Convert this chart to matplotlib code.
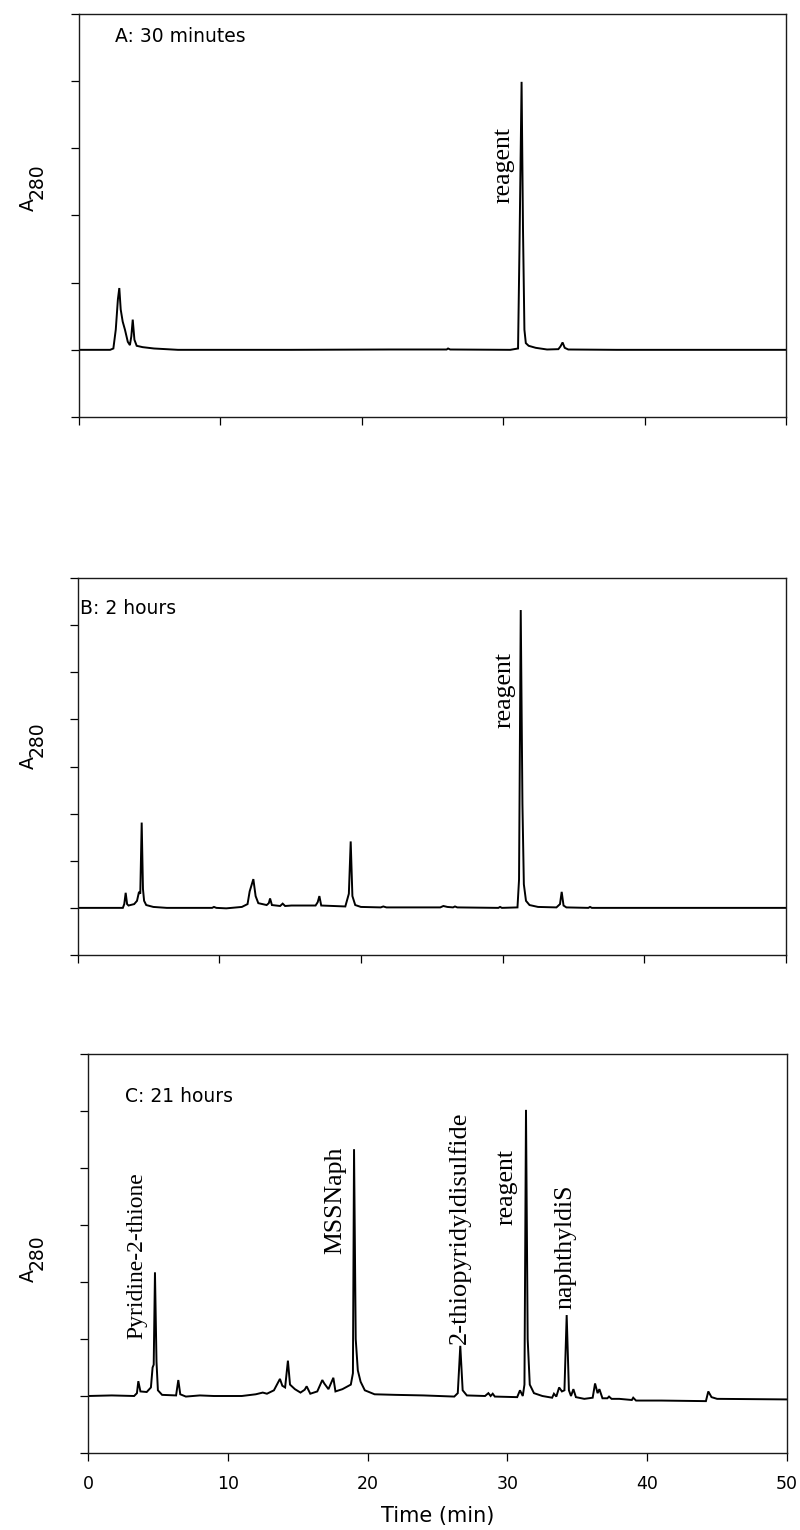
import matplotlib
matplotlib.use("Agg")
import matplotlib.pyplot as plt

# ---------------- data ----------------
# Panel A: 30 minutes
t_A = [0, 2.2, 2.43, 2.6, 2.75, 2.85, 2.95, 3.09, 3.25, 3.45, 3.6, 3.7, 3.8, 3.92, 4.08, 4.5,
       5.3, 7, 15, 22, 26.0, 26.1, 26.25, 30.5, 31.05, 31.15, 31.3, 31.4, 31.5, 31.6, 31.8,
       32.3, 33.1, 33.9, 34.05, 34.2, 34.35, 34.6, 38, 50]
a_A = [0, 0, 0.02, 0.3, 0.75, 0.92, 0.6, 0.42, 0.3, 0.12, 0.07, 0.2, 0.45, 0.15, 0.06, 0.04,
       0.02, 0.0, 0.0, 0.005, 0.005, 0.02, 0.005, 0.0, 0.02, 1.5, 3.99, 1.8, 0.3, 0.1, 0.06,
       0.03, 0.005, 0.01, 0.05, 0.11, 0.03, 0.005, 0.0, 0.0]

# Panel B: 2 hours
t_B = [0, 3.2, 3.3, 3.4, 3.5, 3.6, 4.0, 4.2, 4.34, 4.43, 4.53, 4.62, 4.7, 4.85, 5.35, 6.3,
       9.5, 9.63, 9.8, 10.5, 11.6, 12.0, 12.15, 12.41, 12.57, 12.76, 13.35, 13.5, 13.59, 13.72,
       14.3, 14.48, 14.65, 15.1, 16.8, 16.95, 17.07, 17.2, 18.9, 19.15, 19.28, 19.4, 19.6, 20.0,
       21.4, 21.58, 21.8, 25.6, 25.82, 26.1, 26.5, 26.64, 26.8, 29.7, 29.82, 29.95,
       31.05, 31.16, 31.28, 31.4, 31.5, 31.65, 31.9, 32.5, 33.8, 34.05, 34.17, 34.3, 34.5,
       36.05, 36.17, 36.3, 40, 50]
a_B = [0, 0, 0.08, 0.32, 0.08, 0.05, 0.08, 0.15, 0.34, 0.3, 1.81, 0.4, 0.15, 0.06, 0.02, 0.0,
       0.0, 0.02, 0.0, -0.01, 0.02, 0.08, 0.35, 0.61, 0.25, 0.1, 0.06, 0.1, 0.2, 0.06,
       0.04, 0.09, 0.04, 0.05, 0.05, 0.12, 0.25, 0.05, 0.03, 0.3, 1.41, 0.25, 0.06, 0.02,
       0.01, 0.03, 0.01, 0.01, 0.04, 0.02, 0.01, 0.03, 0.01, 0.0, 0.02, 0.0,
       0.01, 0.6, 6.32, 2.2, 0.5, 0.15, 0.06, 0.02, 0.01, 0.08, 0.34, 0.05, 0.01,
       0.0, 0.02, 0.0, 0.0, 0.0]

# Panel C: 21 hours
t_C = [0, 1.7, 3.3, 3.5, 3.6, 3.75, 4.2, 4.5, 4.62, 4.7, 4.79, 4.9, 5.0, 5.3, 6.3, 6.46, 6.6,
       7.0, 8.0, 9.0, 11.0, 12.0, 12.5, 12.8, 13.3, 13.73, 13.9, 14.1, 14.3, 14.45, 14.8, 15.2,
       15.5, 15.64, 15.9, 16.4, 16.76, 16.9, 17.2, 17.55, 17.7, 18.2, 18.8, 18.95, 19.03, 19.15,
       19.3, 19.5, 19.8, 20.5, 22, 24, 26.2, 26.45, 26.63, 26.8, 27.1, 28.4, 28.64, 28.8,
       28.95, 29.1, 30.7, 30.9, 31.1, 31.22, 31.33, 31.45, 31.6, 31.9, 32.5, 33.2, 33.33,
       33.5, 33.7, 33.9, 34.08, 34.24, 34.4, 34.55, 34.72, 34.9, 35.5, 36.1, 36.27, 36.45,
       36.58, 36.8, 37.15, 37.27, 37.45, 38.0, 38.9, 39.0, 39.2, 41, 44.2, 44.37, 44.6, 45,
       50]
a_C = [0, 0.01, 0.0, 0.05, 0.26, 0.08, 0.07, 0.15, 0.5, 0.55, 2.17, 0.6, 0.1, 0.02, 0.01,
       0.28, 0.03, -0.01, 0.01, 0.0, 0.0, 0.03, 0.06, 0.04, 0.1, 0.3, 0.18, 0.15, 0.62, 0.2,
       0.12, 0.06, 0.11, 0.17, 0.04, 0.08, 0.28, 0.22, 0.12, 0.32, 0.08, 0.12, 0.2, 0.4, 4.33,
       1.0, 0.45, 0.25, 0.1, 0.03, 0.02, 0.01, -0.01, 0.05, 0.88, 0.1, 0.01, 0.0, 0.05, 0.0,
       0.04, -0.01, -0.02, 0.1, 0.0, 0.2, 5.02, 1.0, 0.2, 0.05, 0.0, -0.03, 0.04,
       -0.01, 0.15, 0.08, 0.1, 1.42, 0.1, 0.0, 0.12, -0.02, -0.05, -0.03, 0.22, 0.05,
       0.12, -0.04, -0.04, -0.01, -0.05, -0.05, -0.07, -0.03, -0.08, -0.08, -0.09, 0.08, -0.02,
       -0.05, -0.06]

x_ticks = [0, 10, 20, 30, 40, 50]
x_tick_labels = ["0", "10", "20", "30", "40", "50"]

panel_titles = ["A: 30 minutes", "B: 2 hours", "C: 21 hours"]
title_pos = [(2.55, 4.66), (0.18, 6.36), (2.65, 5.25)]

# peak annotations: (text, x centre, y bottom, size)
ann_A = [("reagent", 30.0, 2.18, 18.5)]
ann_B = [("reagent", 30.15, 3.81, 18.5)]
ann_C = [("Pyridine-2-thione", 3.5, 1.0, 17),
         ("MSSNaph", 17.69, 2.49, 18.5),
         ("2-thiopyridyldisulfide", 26.54, 0.91, 19),
         ("reagent", 29.9, 3.0, 18.5),
         ("naphthyldiS", 34.17, 1.52, 18.5)]

ylims = [(-1, 5), (-1, 7), (-1, 6)]

# ---------------- figure ----------------
W, H = 800, 1530
fig = plt.figure(figsize=(W / 100, H / 100), dpi=100)

def px_rect(l, r, t, b):
    return [l / W, 1 - b / H, (r - l) / W, (b - t) / H]

rects = [px_rect(79, 786, 14, 417), px_rect(77.5, 786, 578, 955), px_rect(88, 787, 1054, 1453)]
datasets = [(t_A, a_A), (t_B, a_B), (t_C, a_C)]
anns = [ann_A, ann_B, ann_C]
ylab_center = [188, 746, 1259]

sans = "DejaVu Sans"
serif = "Liberation Serif"

for i in range(3):
    ax = fig.add_axes(rects[i])
    t, a = datasets[i]
    ax.plot(t, a, color="black", lw=1.4, solid_joinstyle="miter")
    ax.set_xlim(0, 50)
    ax.set_ylim(*ylims[i])
    ax.set_xticks(x_ticks)
    lo, hi = ylims[i]
    ax.set_yticks(list(range(lo, hi + 1)))
    ax.set_yticklabels([])
    if i < 2:
        ax.set_xticklabels([])
    else:
        ax.set_xticklabels(x_tick_labels, family=sans, fontsize=12.5)
    ax.tick_params(direction="out", length=5.5, width=0.9, pad=10, colors="black")
    for s in ax.spines.values():
        s.set_linewidth(1.0)
        s.set_color("#1a1a1a")
    ax.text(*title_pos[i], panel_titles[i], family=sans, fontsize=13.5,
            ha="left", va="center")
    for txt, xc, yb, fs in anns[i]:
        ax.text(xc, yb, txt, family=serif, fontsize=fs, rotation=90,
                ha="center", va="bottom")
    # y label "A280" with lowered digits
    yc = ylab_center[i]
    fig.text(28 / W, 1 - (yc + 17) / H, "A", family=sans, fontsize=13.5, rotation=90,
             ha="center", va="center")
    fig.text(37 / W, 1 - (yc - 7) / H, "280", family=sans, fontsize=13.5, rotation=90,
             ha="center", va="center")

fig.text(437.5 / W, 1 - 1516 / H, "Time (min)", family=sans, fontsize=15,
         ha="center", va="center")

fig.savefig("out.png", dpi=100)
